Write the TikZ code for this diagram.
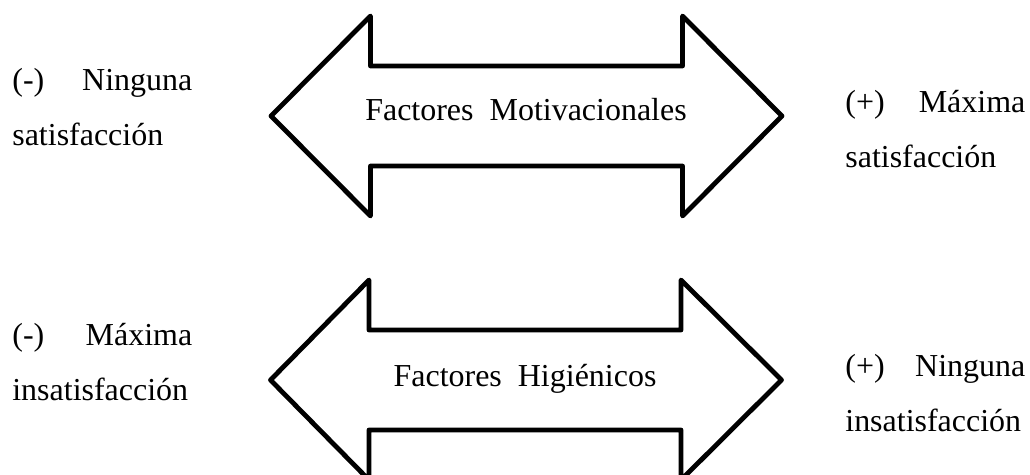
\documentclass[tikz,border=0pt]{standalone}
\usepackage{fontspec}
\setmainfont{Liberation Serif}

\tikzset{
  flecha/.style={line width=0.096cm, line join=round},
  titulo/.style={anchor=base, inner sep=0pt},
  etiqueta/.style={anchor=base west, inner sep=0pt, text width=3.6cm, align=left}
}

\begin{document}
\begin{tikzpicture}[x=0.02cm, y=-0.02cm, font=\fontsize{18.2pt}{31.2pt}\selectfont]
            \useasboundingbox (0,0) rectangle (1030,475);

            \draw[flecha, shift={(526.5,116)}] (-255.5,0) -- (-156,-100) -- (-156,-50) -- (156,-50) -- (156,-100)
                -- (255.5,0) -- (156,100) -- (156,50) -- (-156,50) -- (-156,100) -- cycle;
            \draw[flecha, shift={(526,380)}] (-255.5,0) -- (-157,-100) -- (-157,-50) -- (155,-50) -- (155,-100)
                -- (255.5,0) -- (155,100) -- (155,50) -- (-157,50) -- (-157,100) -- cycle;

            \node[titulo] (motiv) at (526,121) {Factores\ \ Motivacionales};
            \node[titulo] (higien) at (525,387) {Factores\ \ Higiénicos};

            \node[etiqueta] (izqA) at (12,91) {(-)\hfill Ninguna\\satisfacción};
            \node[etiqueta] (derA) at (845,113) {(+)\hfill Máxima\\satisfacción};
            \node[etiqueta] (izqB) at (12,346) {(-)\hfill Máxima\\insatisfacción};
            \node[etiqueta] (derB) at (845,377) {(+)\hfill Ninguna\\insatisfacción};
        \end{tikzpicture}
\end{document}
